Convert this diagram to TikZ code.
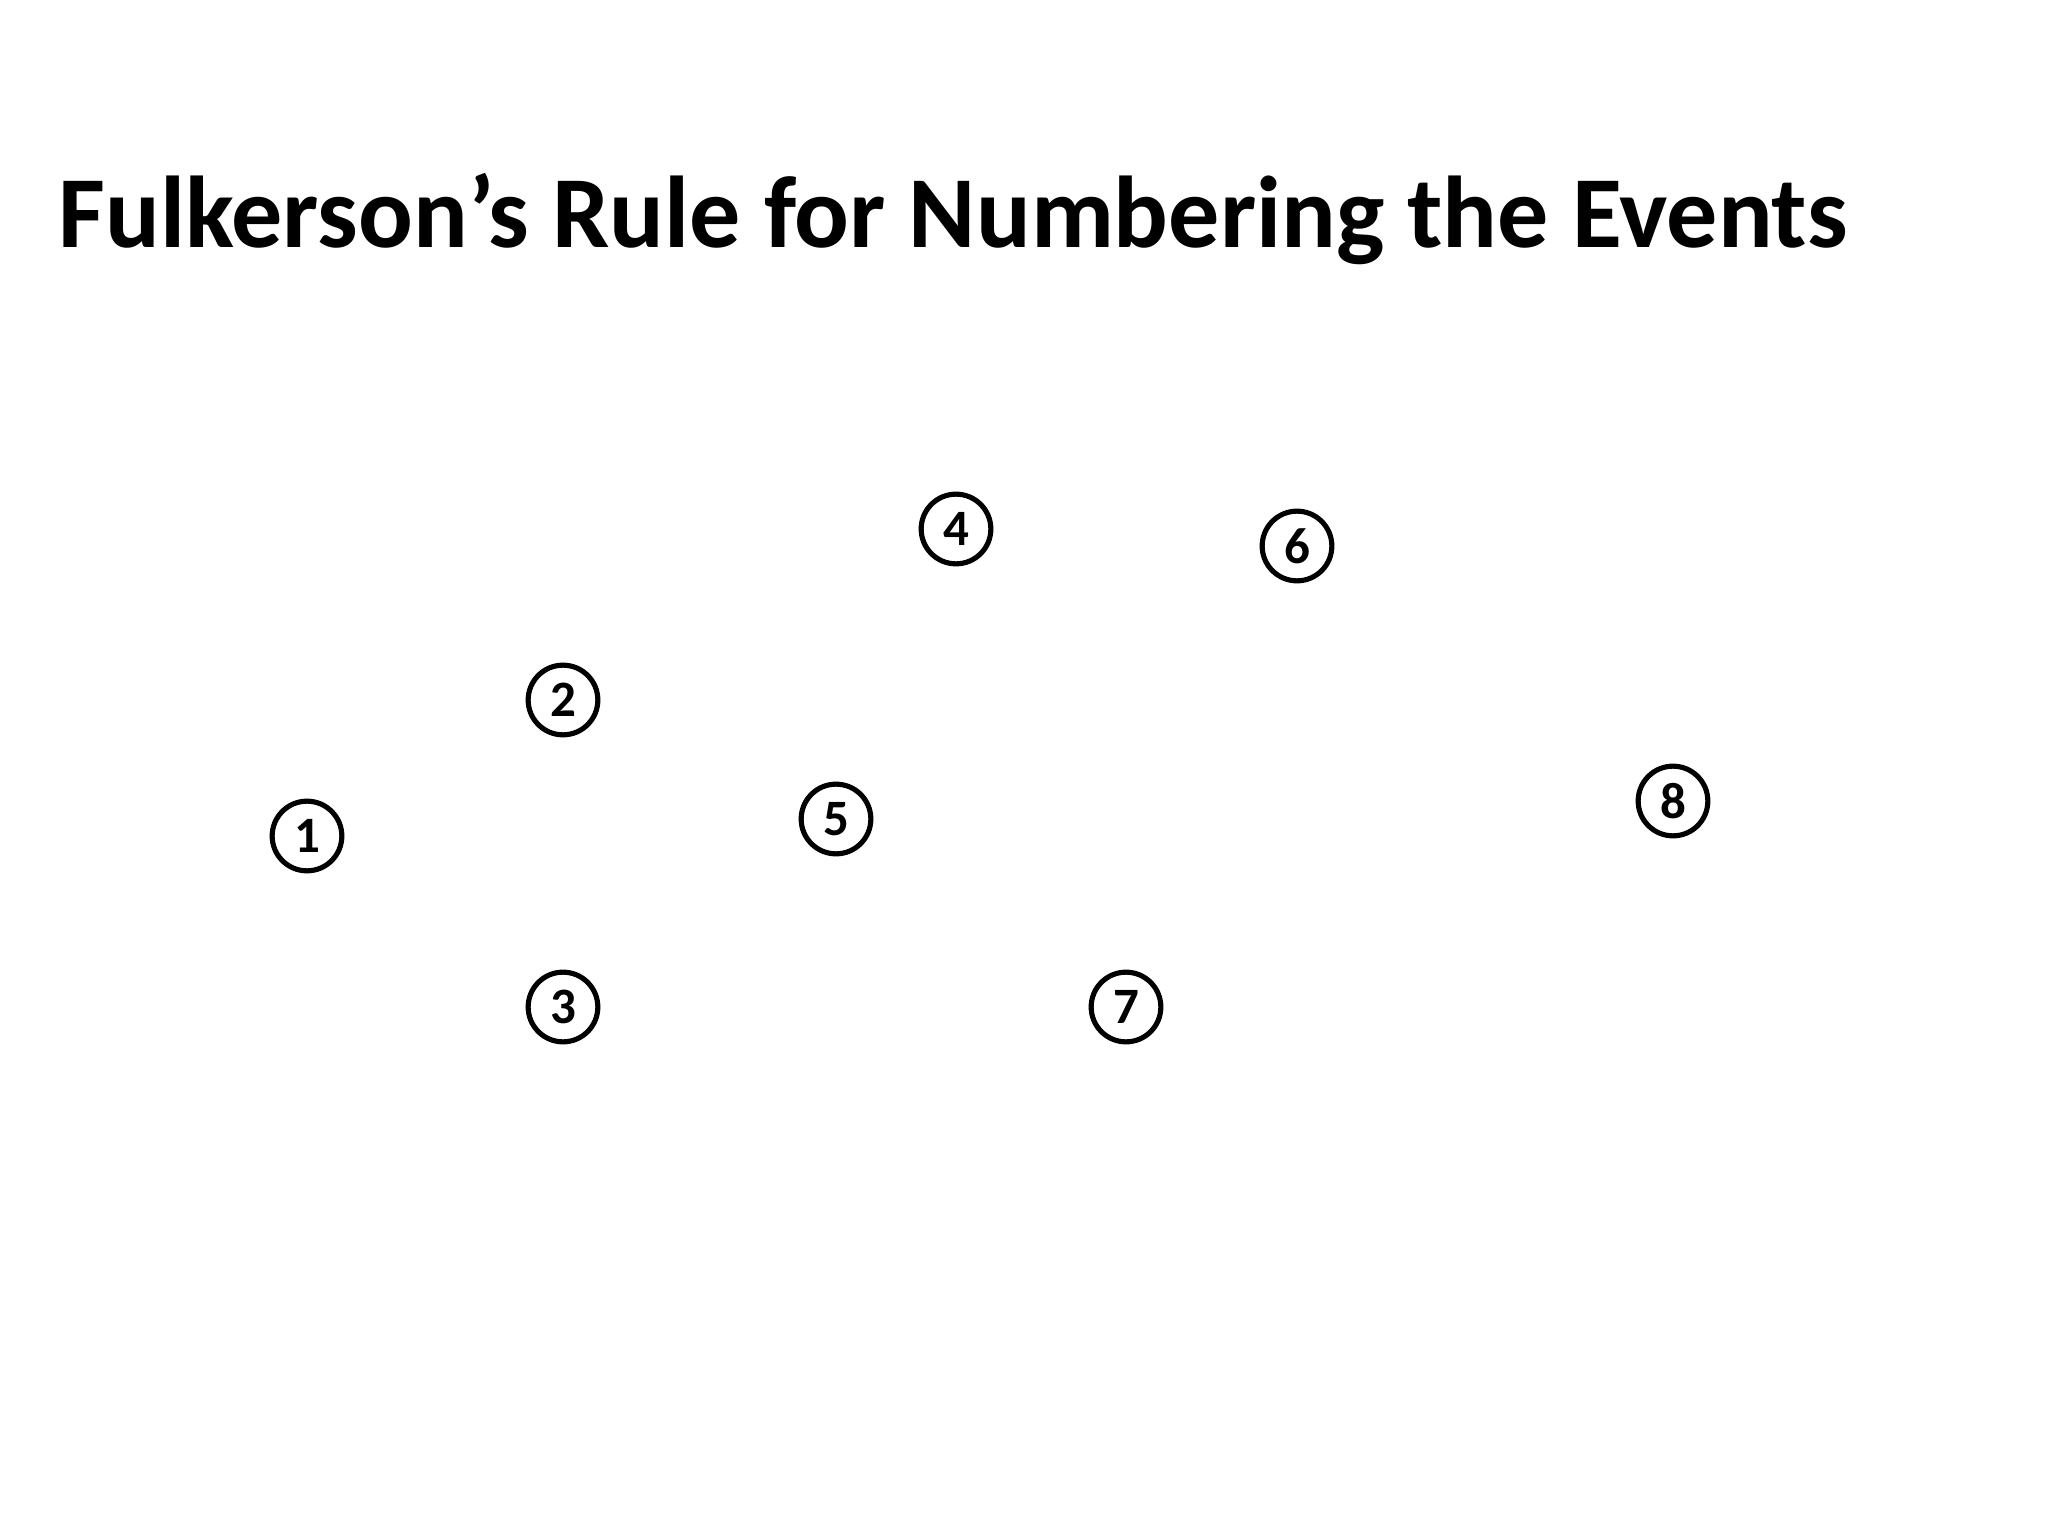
\documentclass[tikz,border=0pt]{standalone}
\usepackage{fontspec}
\setmainfont{Carlito}
\usepackage{tikz}
\usetikzlibrary{positioning}

\tikzset{event/.style={circle, draw, line width=1.8bp, minimum size=24.5bp, inner sep=0pt, font=\fontsize{18}{18}\selectfont\bfseries}}

\begin{document}
\begin{tikzpicture}[x=720bp/2048, y=-540bp/1536]
	\useasboundingbox (0,0) rectangle (2048,1536);
	\node (title) [anchor=base west, inner sep=0pt, font=\fontsize{36}{36}\selectfont\bfseries] at (58,248) {Fulkerson’s Rule for Numbering the Events};

	\node (node1) [event] at (307, 836) {1};
	\node (node2) [event] at (563, 700) {2};
	\node (node3) [event] at (563, 1007) {3};
	\node (node4) [event] at (956, 529) {4};
	\node (node5) [event] at (836, 819) {5};
	\node (node6) [event] at (1297, 546) {6};
	\node (node7) [event] at (1126, 1007) {7};
	\node (node8) [event] at (1673, 801) {8};
\end{tikzpicture}
\end{document}
